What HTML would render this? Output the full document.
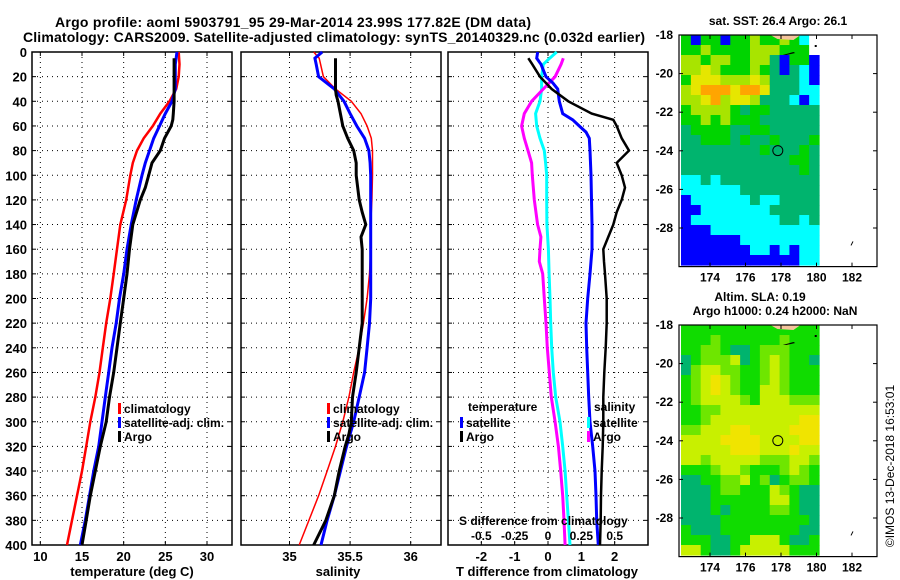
<!DOCTYPE html>
<html><head><meta charset="utf-8"><style>
html,body{margin:0;padding:0;background:#fff;}
svg{display:block;font-family:"Liberation Sans",sans-serif;font-weight:bold;}
</style></head><body>
<svg id="fig" width="900" height="580" viewBox="0 0 900 580" xmlns="http://www.w3.org/2000/svg">
<text x="55" y="27" font-size="14" textLength="476">Argo profile: aoml 5903791_95 29-Mar-2014 23.99S 177.82E (DM data)</text>
<text x="23" y="42" font-size="14" textLength="622">Climatology: CARS2009. Satellite-adjusted climatology: synTS_20140329.nc (0.032d earlier)</text>
<g id="g"></g>
<text x="778" y="25" font-size="12" text-anchor="middle">sat. SST: 26.4 Argo: 26.1</text>
<text x="760" y="301" font-size="12" text-anchor="middle">Altim. SLA: 0.19</text>
<text x="775" y="315" font-size="12" text-anchor="middle">Argo h1000: 0.24 h2000: NaN</text>
<text transform="translate(894,466) rotate(-90)" font-size="12" font-weight="normal" text-anchor="middle">©IMOS 13-Dec-2018 16:53:01</text>
</svg>
<script>
// ---------- data ----------
const tempDepthClim = [0,10,20,30,40,50,60,70,80,90,100,120,140,160,180,200,220,240,260,280,300,320,340,360,380,400];
const tempClim = [26.6,26.7,26.6,26.3,25.5,24.4,23.5,22.4,21.6,21.1,20.8,20.3,19.6,19.2,18.8,18.4,17.9,17.5,17.1,16.6,16.0,15.5,15.0,14.4,13.8,13.2];
const tempDepthSat = [0,10,20,30,40,50,60,70,80,90,100,120,140,160,180,200,220,240,260,280,300,320,340,360,380,400];
const tempSat = [26.4,26.2,26.2,26.2,25.8,25.0,24.3,23.6,23.1,22.6,22.2,21.5,20.9,20.4,20.0,19.5,19.1,18.6,18.2,17.8,17.4,17.0,16.4,15.9,15.4,14.8];
const tempDepthArgo = [5,20,30,40,50,55,60,70,80,90,100,110,120,140,160,180,200,220,240,260,280,300,320,340,360,380,400];
const tempArgo = [26.05,26.05,26.05,26.05,25.95,25.9,25.7,24.9,24.4,23.4,23.0,22.6,22.0,21.1,20.7,20.4,20.0,19.6,19.2,18.8,18.3,17.9,17.2,16.6,16.0,15.5,15.0];

const salDepthClim = [0,5,20,30,40,50,60,70,80,100,120,140,160,180,200,220,240,260,280,300,320,340,360,380,400];
const salClim = [35.20,35.245,35.28,35.38,35.51,35.59,35.64,35.675,35.685,35.685,35.68,35.67,35.67,35.66,35.64,35.61,35.575,35.53,35.49,35.44,35.38,35.31,35.24,35.16,35.08];
const salDepthSat = [0,5,10,20,30,40,50,60,70,80,90,100,120,140,160,180,200,220,240,260,280,300,320,340,360,380,400];
const salSat = [35.27,35.21,35.22,35.24,35.37,35.45,35.50,35.555,35.62,35.655,35.665,35.67,35.67,35.67,35.67,35.67,35.67,35.66,35.64,35.62,35.575,35.53,35.47,35.42,35.37,35.31,35.26];
const salDepthArgo = [5,30,35,40,50,60,70,80,90,100,120,130,140,150,160,180,200,220,240,260,280,300,310,320,340,360,380,400];
const salArgo = [35.38,35.38,35.385,35.40,35.42,35.44,35.48,35.53,35.55,35.55,35.575,35.60,35.63,35.59,35.60,35.60,35.60,35.60,35.575,35.55,35.52,35.51,35.49,35.46,35.41,35.37,35.30,35.20];

const dtDepthSat = [0,5,10,20,25,30,40,50,55,60,65,70,80,100,140,160,180,200,220,240,260,280,300,320,340,360,380,400];
const dtSat = [-0.31,-0.34,-0.21,-0.06,0.14,0.29,0.34,0.44,0.74,0.94,1.14,1.24,1.26,1.29,1.32,1.32,1.26,1.19,1.14,1.16,1.19,1.22,1.26,1.34,1.41,1.44,1.46,1.51];
const dtDepthArgo = [5,10,20,30,40,50,55,60,70,80,90,100,110,120,130,140,150,160,170,180,200,220,240,260,280,300,320,340,360,380,400];
const dtArgo = [-0.59,-0.47,-0.24,0.11,0.61,1.31,1.96,2.06,2.21,2.43,2.06,2.21,2.31,2.21,2.06,1.96,1.81,1.66,1.68,1.71,1.76,1.76,1.73,1.69,1.66,1.66,1.64,1.61,1.59,1.58,1.56];
const dsDepthSat = [0,5,10,20,30,40,50,60,70,80,90,100,120,140,160,180,200,220,240,260,280,300,320,340,360,380,400];
const dsSat = [0.065,0.013,-0.035,-0.048,-0.048,-0.06,-0.093,-0.085,-0.06,-0.028,-0.018,-0.01,-0.01,-0.008,0.003,0.008,0.015,0.02,0.028,0.04,0.058,0.09,0.11,0.128,0.14,0.153,0.165];
const dsDepthArgo = [5,10,20,30,40,50,60,70,80,90,100,120,140,150,160,170,180,200,220,240,260,280,300,320,340,360,380,400];
const dsArgo = [0.115,0.098,0.053,-0.035,-0.123,-0.178,-0.198,-0.178,-0.15,-0.123,-0.118,-0.103,-0.078,-0.053,-0.06,-0.065,-0.04,-0.028,-0.015,-0.005,0.01,0.025,0.053,0.078,0.095,0.11,0.12,0.128];

const depthTicks = [0,20,40,60,80,100,120,140,160,180,200,220,240,260,280,300,320,340,360,380,400];
const tempTicks = [10,15,20,25,30];
const salTicks = [35,35.5,36];
const dtTicks = [-2,-1,0,1,2];
const dsTicks = [-0.5,-0.25,0,0.25,0.5];
const latTicks = [-18,-20,-22,-24,-26,-28];
const lonTicks = [174,176,178,180,182];

// SST map rows (B blue, C cyan, G teal, g green, y yellow-green, Y yellow, O orange, W white)
const sstRows = ["gBggBggyggygCW","ggyggggyyygggW","yygyyggyyGBggB","yyYygggygGBGCB","gYYYyyyYyGGGCB","yYOOOYOOYGGGCC","yyYOyYYyGGGCBC","gyyyygGggGGGGG","ggygygggGGGGGG","GggggGGggGGGGG","GGgggGgGGgGGGg","GGGGGGGGgGGGgG","GGGGGGGGGGGggG","GGGGGGGGGGGGgG","CCGCGGGGGGGGGG","CCCCCCGGGGGGGG","BCCCCCCGCCGGGG","BBCCCCCCCGGGGG","BCCCCCCCCCGGCG","BBBCCCCCCCCCCC","BBBBBBCCCCCCCC","BBBBBBBCCBCBCC","BBBBBBBBBBBBCC"];
// SLA map rows (G teal, g green, l light green, y yellow-green, Y yellow)
const slaRows = ["gggggggggggggg","ggglgggggglggg","ggllgGGglllggg","GglllyGglylggG","Glyyllgglylggg","glyYylgglylggg","glyYylggyylggg","glyyyylgyyylll","ggllyyyyyyyyyy","gglyyyyyyyyyYY","llyyyYYyyyyYYY","yyyyYYYYyyyyYY","yyyyyYYYyyyYyy","yylyyyyylllyyl","ggglyylggglylg","GGggllyglGgllg","GGGgllgggylgGG","GGGggggggyygGG","GGGgGggggllgGG","GGGGgggggggggG","gGGGggggggggGG","gggGGggyyygGGg","yygGGgyyyyyggg"];
const sstColor = {B:"#0000ff",C:"#00ffff",G:"#00b46e",g:"#00d400",y:"#a8e400",Y:"#e6e600",O:"#ffa500",W:"#ffffff"};
const slaColor = {G:"#00b46e",g:"#10dc00",l:"#6ee600",y:"#c8f000",Y:"#f0e400"};

// ---------- drawing ----------
const NS="http://www.w3.org/2000/svg";
const G=document.getElementById('g');
function mk(tag,attrs,parent){const e=document.createElementNS(NS,tag);for(const k in attrs)e.setAttribute(k,attrs[k]);(parent||G).appendChild(e);return e;}
const Y0=52,Y1=545;
function yD(d){return Y0+(Y1-Y0)*d/400;}

function panel(x0,x1,xmin,xmax,ticks,name){
  const sx=v=>x0+(x1-x0)*(v-xmin)/(xmax-xmin);
  const g=mk('g',{});
  
  
  depthTicks.forEach(d=>{
    if(d>0&&d<400){const l=mk('line',{x1:x0,x2:x1,y1:yD(d),y2:yD(d),stroke:'#000','stroke-width':1,'stroke-dasharray':'1,4'},g);
    }
    mk('line',{x1:x0,x2:x0+4,y1:yD(d),y2:yD(d),stroke:'#000'},g);
    mk('line',{x1:x1-4,x2:x1,y1:yD(d),y2:yD(d),stroke:'#000'},g);
  });
  ticks.forEach(t=>{
    const x=sx(t);
    const l=mk('line',{x1:x,x2:x,y1:Y0,y2:Y1,stroke:'#000','stroke-width':1,'stroke-dasharray':'1,4'},g);
    
    mk('line',{x1:x,x2:x,y1:Y1-4,y2:Y1,stroke:'#000'},g);
    mk('line',{x1:x,x2:x,y1:Y0,y2:Y0+4,stroke:'#000'},g);
    const tx=mk('text',{x:x,y:561,'font-size':13,'text-anchor':'middle'},g);tx.textContent=t;
    
  });
  const fr=mk('rect',{x:x0,y:Y0,width:x1-x0,height:Y1-Y0,fill:'none',stroke:'#000','stroke-width':1.5},g);
  
  return {sx,g};
}
function series(p,depths,vals,color,w,name,scale){
  const pts=depths.map((d,i)=>p.sx(vals[i]*(scale||1)).toFixed(1)+','+yD(d).toFixed(1)).join(' ');
  const e=mk('polyline',{points:pts,fill:'none',stroke:color,'stroke-width':w,'stroke-linejoin':'miter'},p.g);
  
  
}
function txt(x,y,s,size,anchor,name,extra){
  const e=mk('text',Object.assign({x:x,y:y,'font-size':size,'text-anchor':anchor||'start'},extra||{}));e.textContent=s;
  
  
  return e;
}
function legend(x,y,color,label){
  const r=mk('rect',{x:x,y:y-10,width:3,height:11,fill:color});
  
  
  txt(x+6,y,label,12,'start','legend-entry');
}

depthTicks.forEach(d=>{txt(27,yD(d)+5,String(d),13,'end','y-tick-label');});

const p1=panel(32,232,9,33,tempTicks,'temperature');
series(p1,tempDepthClim,tempClim,'#ff0000',2.5,'temp-climatology-line');
series(p1,tempDepthSat,tempSat,'#0000ff',3,'temp-satellite-line');
series(p1,tempDepthArgo,tempArgo,'#000000',3,'temp-argo-line');
txt(132,576,'temperature (deg C)',13,'middle','x-axis-title-temperature');
legend(118,413,'#ff0000','climatology');legend(118,427,'#0000ff','satellite-adj. clim.');legend(118,441,'#000000','Argo');

const p2=panel(241,441,34.6,36.25,salTicks,'salinity');
series(p2,salDepthClim,salClim,'#ff0000',1.5,'sal-climatology-line');
series(p2,salDepthSat,salSat,'#0000ff',3,'sal-satellite-line');
series(p2,salDepthArgo,salArgo,'#000000',3,'sal-argo-line');
txt(338,576,'salinity',13,'middle','x-axis-title-salinity');
legend(327,413,'#ff0000','climatology');legend(327,427,'#0000ff','satellite-adj. clim.');legend(327,441,'#000000','Argo');

const p3=panel(448,648,-3,3,dtTicks,'difference');
series(p3,dsDepthSat,dsSat,'#00ffff',3,'s-diff-satellite-line',4);
series(p3,dsDepthArgo,dsArgo,'#ff00ff',3,'s-diff-argo-line',4);
series(p3,dtDepthSat,dtSat,'#0000ff',3,'t-diff-satellite-line');
series(p3,dtDepthArgo,dtArgo,'#000000',2.5,'t-diff-argo-line');
txt(547,576,'T difference from climatology',13,'middle','x-axis-title-t-diff');
txt(468,411,'temperature',12,'start','legend-title-temperature');
txt(594,411,'salinity',12,'start','legend-title-salinity');
legend(460,427,'#0000ff','satellite');legend(460,441,'#000000','Argo');
legend(587,427,'#00ffff','satellite');legend(587,441,'#ff00ff','Argo');
txt(459,525,'S difference from climatology',12,'start','s-axis-title');
dsTicks.forEach(t=>{txt(p3.sx(t*4),540,String(t),12,'middle','s-tick-label');});

function map(top,rows,colors,name){
  const lx=lon=>710+(lon-174)*17.75, ly=lat=>top+(-18-lat)*19.3;
  const g=mk('g',{});
  
  
  const cw=138/14, ch=230/rows.length;
  rows.forEach((r,i)=>{for(let j=0;j<14;j++){const c=colors[r[j]]||colors[Object.keys(colors)[0]];
    mk('rect',{x:(681+j*cw).toFixed(2),y:(top+i*ch).toFixed(2),width:(cw+0.6).toFixed(2),height:(ch+0.6).toFixed(2),fill:c},g);}});
  mk('path',{d:`M${lx(177.4)},${top} L${lx(179.1)},${top} L${lx(178.7)},${top+5} L${lx(177.8)},${top+4} Z`,fill:'#f5c49c'},g);
  mk('path',{d:`M${lx(178.1)},${top+20} L${lx(178.7)},${top+17} L${lx(178.8)},${top+18} L${lx(178.3)},${top+20} Z`,fill:'#000'},g);
  mk('rect',{x:lx(179.9),y:top+10,width:2,height:2,fill:'#000'},g);
  const fr=mk('rect',{x:679,y:top,width:198,height:ly(-30)-top,fill:'none',stroke:'#000','stroke-width':1.2},g);
  
  const b=ly(-30);
  lonTicks.forEach(l=>{mk('line',{x1:lx(l),x2:lx(l),y1:b,y2:b-4,stroke:'#000'},g);mk('line',{x1:lx(l),x2:lx(l),y1:top,y2:top+4,stroke:'#000'},g);
    txt(lx(l),b+15,String(l),12,'middle','lon-tick-label');});
  latTicks.forEach(l=>{mk('line',{x1:679,x2:683,y1:ly(l),y2:ly(l),stroke:'#000'},g);mk('line',{x1:873,x2:877,y1:ly(l),y2:ly(l),stroke:'#000'},g);
    txt(673,ly(l)+4,String(l),12,'end','lat-tick-label');});
  const c=mk('circle',{cx:lx(177.82),cy:ly(-23.99),r:5,fill:'none',stroke:'#000','stroke-width':1},g);
  
  mk('path',{d:`M${lx(182)-1},${ly(-28.8)+2} l2,-4`,stroke:'#000','stroke-width':1},g);
}
map(35,sstRows,sstColor,'sst-map');
map(325,slaRows,slaColor,'sla-map');
</script>
</body></html>
